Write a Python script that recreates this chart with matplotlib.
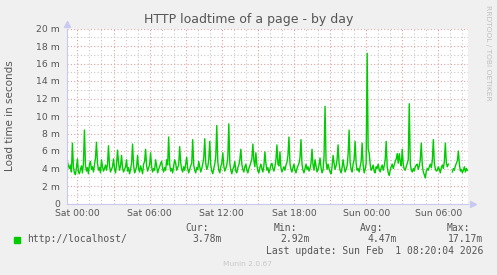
import numpy as np
import pandas as pd
import matplotlib
matplotlib.use("Agg")
import matplotlib.pyplot as plt
import matplotlib.dates as mdates

# Load time samples (milliseconds), one every 5 minutes
load_ms = [
    4.8, 4.3, 4.0, 4.4, 3.6, 6.9, 4.2, 3.5, 3.3, 4.1, 5.1, 3.6, 3.4, 3.9, 4.3, 3.5, 4.6, 8.4, 4.4, 3.7,
    4.1, 3.4, 4.5, 4.8, 3.9, 4.2, 3.6, 4.4, 5.2, 7.0, 4.6, 3.8, 4.1, 3.5, 5.0, 4.2, 3.7, 4.0, 4.4, 3.8,
    4.5, 6.6, 4.3, 3.6, 3.9, 4.2, 5.1, 4.0, 3.5, 4.4, 6.1, 4.7, 3.8, 4.3, 5.5, 4.1, 3.6, 3.9, 4.2, 5.0,
    3.7, 4.1, 3.4, 3.9, 4.6, 6.8, 4.4, 3.5, 3.8, 4.2, 5.5, 4.0, 3.6, 4.3, 3.9, 3.4, 4.5, 4.8, 6.2, 4.3,
    3.7, 4.1, 4.4, 5.8, 4.2, 3.6, 4.0, 3.8, 5.0, 4.3, 3.5, 3.9, 4.2, 4.6, 4.8, 4.0, 3.6, 4.1, 3.8, 5.0,
    4.4, 7.6, 4.5, 3.7, 4.0, 3.5, 4.3, 5.0, 4.6, 3.8, 4.1, 4.4, 6.5, 4.7, 3.9, 3.6, 4.2, 3.8, 4.5, 5.3,
    4.0, 3.5, 3.9, 4.3, 4.6, 7.3, 4.4, 3.8, 3.5, 4.1, 3.9, 4.8, 4.2, 3.6, 4.0, 4.5, 5.2, 7.4, 4.6, 3.9,
    4.2, 5.0, 7.1, 4.4, 3.7, 3.4, 4.0, 4.5, 5.4, 8.9, 4.8, 3.8, 3.5, 4.2, 4.6, 5.8, 4.3, 3.7, 4.0, 4.4,
    5.3, 9.1, 4.6, 3.8, 3.4, 3.9, 4.2, 4.8, 3.7, 3.5, 4.1, 4.4, 5.0, 6.2, 4.5, 3.9, 3.6, 4.2, 4.5, 3.8,
    3.5, 4.0, 4.3, 4.7, 5.1, 6.8, 4.9, 4.2, 5.8, 4.4, 3.7, 3.5, 4.1, 4.5, 4.0, 3.6, 4.3, 5.9, 4.6, 3.8,
    4.1, 3.5, 3.9, 4.4, 4.6, 4.0, 3.7, 4.2, 5.0, 6.7, 4.5, 4.3, 5.9, 4.1, 3.6, 3.9, 4.2, 3.8, 4.4, 4.7,
    5.5, 7.6, 4.6, 3.9, 3.6, 4.1, 4.5, 3.8, 3.5, 4.0, 4.3, 4.6, 5.2, 7.3, 4.5, 3.8, 3.5, 4.0, 4.5, 3.9,
    4.2, 3.7, 4.0, 4.6, 6.2, 4.4, 3.8, 5.0, 4.3, 3.6, 3.9, 4.4, 5.2, 4.1, 3.5, 3.8, 5.4, 11.1, 4.8, 3.9,
    4.5, 4.0, 3.6, 3.4, 4.2, 5.5, 4.6, 3.9, 4.3, 5.0, 6.7, 4.6, 3.8, 3.5, 4.1, 5.0, 4.2, 3.6, 3.9, 4.3,
    5.6, 8.4, 4.7, 3.9, 3.6, 4.5, 5.0, 7.1, 4.6, 3.8, 4.0, 3.6, 4.2, 4.8, 6.9, 4.4, 3.5, 3.9, 4.6, 17.17,
    6.2, 5.8, 4.5, 3.8, 4.0, 4.4, 3.7, 3.5, 4.2, 4.0, 4.5, 3.9, 3.6, 4.1, 4.4, 3.8, 4.3, 5.0, 7.1, 4.2,
    3.5, 3.2, 3.8, 4.2, 4.5, 4.0, 4.4, 4.8, 5.1, 5.7, 4.6, 5.7, 4.8, 4.3, 6.2, 4.5, 3.9, 3.8, 4.2, 4.6,
    5.0, 11.4, 4.6, 3.8, 3.6, 4.0, 3.7, 4.2, 4.4, 4.5, 3.9, 4.3, 5.0, 6.9, 4.4, 3.6, 3.3, 2.92, 3.7, 4.0,
    3.8, 4.2, 4.5, 4.1, 4.9, 7.3, 4.6, 4.0, 3.7, 3.8, 4.2, 3.9, 3.5, 4.1, 4.4, 4.0, 4.8, 6.9, 4.6, 4.2,
    4.5, np.nan, np.nan, np.nan, 3.6, 4.0, 3.8, 4.3, 4.6, 4.9, 6.0, 4.5, 3.7, 3.9, 3.5, 3.8, 4.2, 3.6, 4.0, 3.78,
]
times = pd.date_range("2026-01-30 23:10", periods=len(load_ms), freq="5min")

yticks = [0, 2, 4, 6, 8, 10, 12, 14, 16, 18, 20]
ytick_labels = ["0"] + [f"{v} m" for v in yticks[1:]]

series_name = "http://localhost/"
cur, vmin, avg, vmax = "3.78m", "2.92m", "4.47m", "17.17m"
last_update = "Last update: Sun Feb  1 08:20:04 2026"

W, H = 497, 275
bg = "#f0f0f0"
txt = "#555555"
axis_col = "#c8c8f0"

fig = plt.figure(figsize=(W / 100, H / 100), dpi=100, facecolor=bg)
ax = fig.add_axes([67 / W, 71.5 / H, 401 / W, 175 / H])
ax.set_facecolor("white")

ax.plot(times, load_ms, color="#00cc00", lw=1.0, zorder=3)

ax.set_xlim(times[0] - pd.Timedelta(minutes=2), times[-1] + pd.Timedelta(minutes=3))
ax.set_ylim(0, 20)

# grid: red every 2 m / 3 h, grey every 1 m / 1 h
ax.set_yticks(yticks)
ax.set_yticklabels(ytick_labels)
ax.set_yticks(range(1, 20, 2), minor=True)
ax.xaxis.set_major_locator(mdates.HourLocator(byhour=range(0, 24, 3)))
ax.xaxis.set_minor_locator(mdates.HourLocator())


def fmt_hour(x, pos):
    d = mdates.num2date(x)
    if d.hour % 6 == 0:
        return d.strftime("%a %H:%M")
    return ""


ax.xaxis.set_major_formatter(plt.FuncFormatter(fmt_hour))
ax.grid(which="major", color="#e0a0a0", ls=(0, (1, 2)), lw=0.8, zorder=1)
ax.grid(which="minor", color="#c8c8c8", ls=(0, (1, 2)), lw=0.8, zorder=1)

ax.tick_params(which="both", length=0, labelsize=6.7, labelcolor=txt)
ax.tick_params(axis="x", pad=4)
ax.tick_params(axis="y", pad=5)

for s in ["top", "right"]:
    ax.spines[s].set_visible(False)
for s in ["left", "bottom"]:
    ax.spines[s].set_color(axis_col)
    ax.spines[s].set_linewidth(0.8)
    ax.spines[s].set_zorder(4)
ax.plot([0], [1.025], marker="^", ms=4, color=axis_col, transform=ax.transAxes, clip_on=False)
ax.plot([1.012], [0], marker=">", ms=4, color=axis_col, transform=ax.transAxes, clip_on=False)


def px_text(x, y, s, **kw):
    fig.text(x / W, 1 - y / H, s, **kw)


px_text(248.5, 19, "HTTP loadtime of a page - by day", ha="center", va="center",
        fontsize=9, color=txt)
px_text(10, 116, "Load time in seconds", rotation=90, ha="center", va="center",
        fontsize=7.5, color=txt)
px_text(488, 53, "RRDTOOL / TOBI OETIKER", rotation=270, ha="center", va="center",
        fontsize=5.4, color="#c0c0c0")

# legend block
fig.patches.append(plt.Rectangle((14 / W, 1 - 242.5 / H), 5.5 / W, 5.5 / H,
                                 transform=fig.transFigure, color="#00cc00"))
mono = dict(family="DejaVu Sans Mono", fontsize=7, color=txt, va="center")
px_text(27, 239.5, series_name, ha="left", **mono)
for label, val, xl, xv in [("Cur:", cur, 208.5, 221.5), ("Min:", vmin, 297, 309.5),
                           ("Avg:", avg, 383.5, 396.5), ("Max:", vmax, 470, 483)]:
    px_text(xl, 228, label, ha="right", **mono)
    px_text(xv, 239.5, val, ha="right", **mono)
px_text(483, 251, last_update, ha="right", **mono)
px_text(247.5, 264, "Munin 2.0.67", ha="center", va="center", fontsize=5.4, color="#c8c8c8")

fig.savefig("out.png", dpi=100, facecolor=bg)
